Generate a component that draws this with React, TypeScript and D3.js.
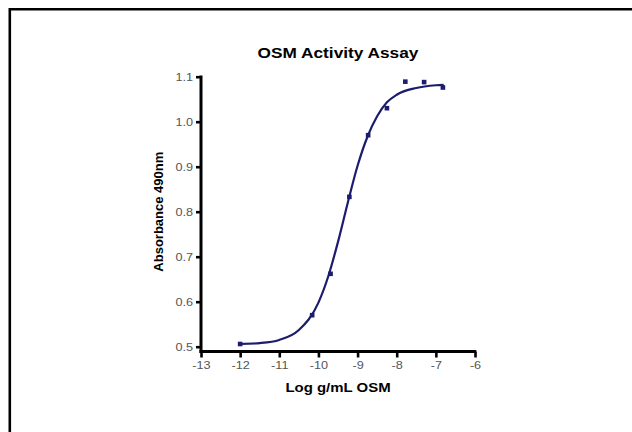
import React, { useEffect, useRef } from 'react';
import * as d3 from 'd3';

// measured points (log g/mL, absorbance)
const doseLog = [-12, -10.16, -9.69, -9.21, -8.73, -8.25, -7.78, -7.3, -6.82];
const absorbance = [0.506, 0.57, 0.662, 0.833, 0.97, 1.03, 1.089, 1.088, 1.076];

// fitted curve
const fitX = [-12, -11.5, -11, -10.5, -10, -9.75, -9.5, -9.25, -9, -8.75, -8.5, -8.25, -8, -7.5, -7, -6.8];
const fitY = [0.506, 0.508, 0.515, 0.537, 0.598, 0.656, 0.733, 0.82, 0.902, 0.966, 1.012, 1.043, 1.06, 1.075, 1.081, 1.082];

const xTicks = [-13, -12, -11, -10, -9, -8, -7, -6];
const yTicks = [0.5, 0.6, 0.7, 0.8, 0.9, 1.0, 1.1];

const title = 'OSM Activity Assay';
const xLabel = 'Log g/mL OSM';
const yLabel = 'Absorbance 490nm';

const Chart = () => {
    const svgRef = useRef<SVGSVGElement>(null);

    useEffect(() => {
        const svg = d3.select(svgRef.current);
        svg.selectAll('*').remove();

        const width = 632;
        const height = 432;
        const left = 201, right = 475, top = 76.7, bottom = 346.7;
        const axisY = 351.5;
        const navy = '#1c1c6e';
        const font = '"Liberation Sans", Arial, sans-serif';
        const stretch = 1.15; // picture is a bit wider than tall

        svg.append('rect').attr('width', width).attr('height', height).attr('fill', '#fff');

        // frame (only top and left edges show)
        svg.append('path')
            .attr('d', `M9.8,${height}V9.2H${width}`)
            .attr('fill', 'none')
            .attr('stroke', '#000')
            .attr('stroke-width', 2.6);

        const x = d3.scaleLinear().domain([-13, -6]).range([left, right]);
        const y = d3.scaleLinear().domain([0.5, 1.1]).range([bottom, top]);

        // y axis
        const yAxis = svg.append('g')
            .attr('transform', `translate(${left},0)`)
            .call(d3.axisLeft(y).tickValues(yTicks).tickFormat(d3.format('.1f')).tickSize(5).tickSizeOuter(0));
        yAxis.select('.domain').remove();
        yAxis.selectAll('.tick line').attr('stroke', '#000').attr('stroke-width', 2.6);
        yAxis.selectAll('text')
            .attr('x', -8)
            .attr('fill', '#555')
            .style('font-family', font)
            .style('font-size', '11px');
        yAxis.append('line')
            .attr('x1', 0).attr('x2', 0)
            .attr('y1', y(1.1) - 1.3).attr('y2', axisY + 1.5)
            .attr('stroke', '#000').attr('stroke-width', 3);

        // x axis
        const xAxis = svg.append('g')
            .attr('transform', `translate(0,${axisY})`)
            .call(d3.axisBottom(x).tickValues(xTicks).tickFormat(d => String(d)).tickSize(6).tickSizeOuter(0));
        xAxis.select('.domain').remove();
        xAxis.selectAll('.tick line').attr('stroke', '#000').attr('stroke-width', 2.6);
        xAxis.selectAll('text')
            .attr('y', 10)
            .attr('fill', '#555')
            .style('font-family', font)
            .style('font-size', '11px');
        xAxis.append('line')
            .attr('x1', x(-13) - 1.5).attr('x2', x(-6) + 1.3)
            .attr('y1', 0).attr('y2', 0)
            .attr('stroke', '#000').attr('stroke-width', 3);

        // titles
        svg.append('text')
            .attr('class', 'wide')
            .attr('x', (left + right) / 2)
            .attr('y', 58)
            .attr('text-anchor', 'middle')
            .style('font-family', font)
            .style('font-weight', 'bold')
            .style('font-size', '15px')
            .text(title);

        svg.append('text')
            .attr('class', 'wide')
            .attr('x', (left + right) / 2)
            .attr('y', 392)
            .attr('text-anchor', 'middle')
            .style('font-family', font)
            .style('font-weight', 'bold')
            .style('font-size', '13px')
            .text(xLabel);

        svg.append('text')
            .attr('transform', `translate(163,${(top + bottom) / 2}) rotate(-90)`)
            .attr('text-anchor', 'middle')
            .style('font-family', font)
            .style('font-weight', 'bold')
            .style('font-size', '13px')
            .text(yLabel);

        // fitted curve
        const line = d3.line<number>()
            .x((d, i) => x(fitX[i]))
            .y(d => y(d))
            .curve(d3.curveMonotoneX);

        svg.append('path')
            .datum(fitY)
            .attr('d', line)
            .attr('fill', 'none')
            .attr('stroke', navy)
            .attr('stroke-width', 2.2);

        // points
        svg.append('g')
            .selectAll('rect')
            .data(absorbance)
            .join('rect')
            .attr('x', (d, i) => x(doseLog[i]) - 2.3)
            .attr('y', d => y(d) - 2.3)
            .attr('width', 4.6)
            .attr('height', 4.6)
            .attr('fill', navy);

        // widen horizontal text to match the stretched picture
        svg.selectAll<SVGTextElement, unknown>('.tick text, text.wide').each(function () {
            const w = this.getComputedTextLength();
            d3.select(this)
                .attr('textLength', w * stretch)
                .attr('lengthAdjust', 'spacingAndGlyphs');
        });
    }, []);

    return <svg ref={svgRef} width="632" height="432" style={{ display: 'block' }}></svg>;
};

export default function App() {
    return (
        <div style={{ position: 'fixed', left: 0, top: 0 }}>
            <Chart />
        </div>
    );
}
